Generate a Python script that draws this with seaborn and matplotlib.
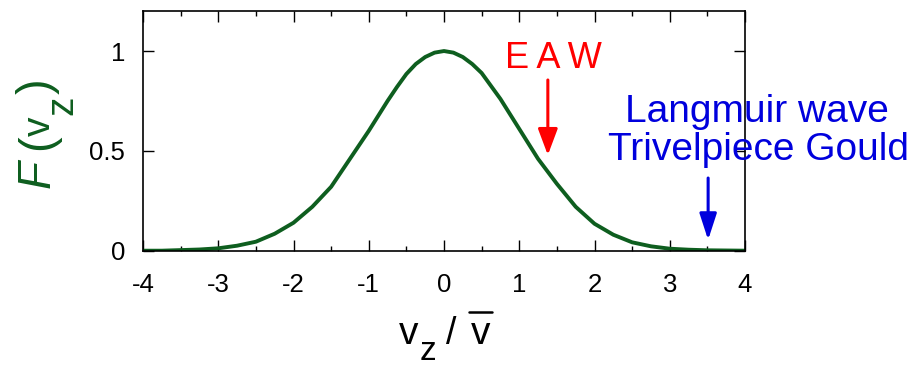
import numpy as np
import pandas as pd
import seaborn as sns
import matplotlib.pyplot as plt
from matplotlib.lines import Line2D
from matplotlib.ticker import MultipleLocator

# velocity grid and distribution
vz = [-4.0, -3.75, -3.5, -3.25, -3.0, -2.75, -2.5, -2.25, -2.0, -1.75, -1.5,
      -1.25, -1.0, -0.75, -0.625, -0.5, -0.375, -0.25, -0.125, 0.0,
      0.125, 0.25, 0.375, 0.5, 0.625, 0.75, 1.0, 1.25,
      1.5, 1.75, 2.0, 2.25, 2.5, 2.75, 3.0, 3.25, 3.5, 3.75, 4.0]
F = [0.0, 0.0, 0.003, 0.006, 0.012, 0.025, 0.045, 0.085, 0.14, 0.22, 0.32,
     0.46, 0.60, 0.75, 0.82, 0.885, 0.935, 0.97, 0.992, 1.0,
     0.992, 0.97, 0.935, 0.89, 0.825, 0.76, 0.61, 0.46,
     0.335, 0.22, 0.135, 0.08, 0.042, 0.022, 0.01, 0.005, 0.002, 0.001, 0.0]

x_ticks = [-4, -3, -2, -1, 0, 1, 2, 3, 4]
y_ticks = [0, 0.5, 1]
y_labels = ['0', '0.5', '1']

df = pd.DataFrame({'vz': vz, 'F': F})

sns.set_style('ticks')
plt.rcParams['font.family'] = ['Liberation Sans', 'DejaVu Sans']
plt.rcParams['text.color'] = 'black'
plt.rcParams['xtick.color'] = 'black'
plt.rcParams['ytick.color'] = 'black'

W, H = 916, 368
fig = plt.figure(figsize=(W / 100, H / 100), dpi=100)
ax = fig.add_axes([143 / W, 1 - 250.7 / H, 602 / W, 239.6 / H])

green = '#0e5e1f'
blue = '#0000dd'
sns.lineplot(data=df, x='vz', y='F', ax=ax, color=green, lw=2.8)

ax.set_xlim(-4, 4)
ax.set_ylim(0, 1.2)
ax.set_xticks(x_ticks)
ax.set_xticklabels([str(t) for t in x_ticks])
ax.xaxis.set_minor_locator(MultipleLocator(0.5))
ax.set_yticks(y_ticks)
ax.set_yticklabels(y_labels)
ax.tick_params(which='both', direction='in', top=True, right=True,
               labelsize=18.5, width=1.0, color='black')
ax.tick_params(axis='x', pad=16)
ax.tick_params(axis='y', pad=13)
ax.tick_params(which='major', length=8)
ax.tick_params(which='minor', length=3.6)
for s in ax.spines.values():
    s.set_linewidth(1.2)
    s.set_color('black')
ax.set_xlabel('')
ax.set_ylabel('')


def ftext(px, py, s, **kw):
    fig.text(px / W, 1 - py / H, s, ha='left', va='baseline', **kw)


# x label: v_z / v-bar
ftext(399, 344, 'v', fontsize=28)
ftext(420, 360, 'z', fontsize=24)
ftext(446, 344, '/', fontsize=27)
ftext(471, 344, 'v', fontsize=28)
fig.add_artist(Line2D([469 / W, 492 / W], [1 - 312 / H, 1 - 312 / H],
                      transform=fig.transFigure, color='black', lw=1.8))

# y label: F(v_z), rotated
rot = dict(rotation=90, rotation_mode='anchor', color=green)
ftext(50, 188, 'F', fontsize=33, fontstyle='italic', **rot)
ftext(50, 150, '(', fontsize=34, **rot)
ftext(50, 136, 'v', fontsize=28, **rot)
ftext(72, 115, 'z', fontsize=28, **rot)
ftext(50, 94, ')', fontsize=34, **rot)

ax.text(1.46, 0.915, 'E\u2009A\u2009W', color='red', fontsize=26,
        ha='center', va='baseline')
ax.annotate('', xy=(1.38, 0.479), xytext=(1.38, 0.855),
            arrowprops=dict(arrowstyle='-|>,head_width=0.3,head_length=0.8',
                            mutation_scale=20, shrinkA=0, shrinkB=0,
                            color='red', lw=2.2))
ax.text(4.157, 0.644, 'Langmuir wave', color=blue, fontsize=28,
        ha='center', va='baseline')
ax.text(4.177, 0.454, 'Trivelpiece Gould', color=blue, fontsize=28,
        ha='center', va='baseline')
ax.annotate('', xy=(3.51, 0.054), xytext=(3.51, 0.364),
            arrowprops=dict(arrowstyle='-|>,head_width=0.26,head_length=0.8',
                            mutation_scale=20, shrinkA=0, shrinkB=0,
                            color=blue, lw=2.2))

fig.savefig('out.png', dpi=100)
